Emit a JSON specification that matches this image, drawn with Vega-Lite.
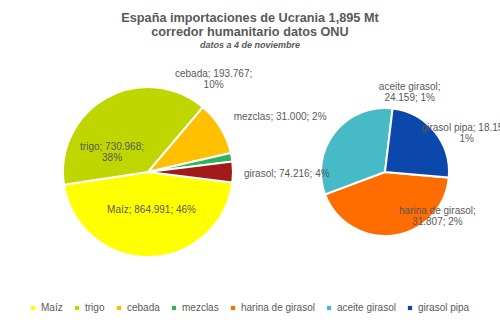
{
  "$schema": "https://vega.github.io/schema/vega-lite/v6.json",
  "width": 500,
  "height": 244,
  "autosize": {"type": "none"},
  "padding": {"left": 0, "right": 0, "top": 50, "bottom": 36},
  "background": "white",
  "config": {"view": {"stroke": null}, "font": "Liberation Sans"},
  "title": {
    "text": ["España importaciones de Ucrania 1,895 Mt", "corredor humanitario datos  ONU"],
    "subtitle": "datos a 4 de noviembre",
    "anchor": "middle",
    "font": "Liberation Sans",
    "fontSize": 12.7,
    "fontWeight": "bold",
    "color": "#595959",
    "lineHeight": 14,
    "subtitleFont": "Liberation Sans",
    "subtitleFontSize": 9,
    "subtitleFontStyle": "italic",
    "subtitleFontWeight": "bold",
    "subtitleColor": "#595959",
    "subtitlePadding": 2,
    "offset": -11
  },
  "data": {
    "values": [
      {"grupo": "principal", "cat": "Maíz", "valor": 864.991, "orden": 1, "label": "Maíz; 864.991; 46%"},
      {"grupo": "principal", "cat": "trigo", "valor": 730.968, "orden": 2, "label": "trigo; 730.968;\n38%"},
      {"grupo": "principal", "cat": "cebada", "valor": 193.767, "orden": 3, "label": "cebada; 193.767;\n10%"},
      {"grupo": "principal", "cat": "mezclas", "valor": 31.0, "orden": 4, "label": "mezclas; 31.000; 2%"},
      {"grupo": "principal", "cat": "girasol", "valor": 74.216, "orden": 5, "label": "girasol; 74.216; 4%"},
      {"grupo": "girasol", "cat": "harina de girasol", "valor": 31.807, "orden": 1, "label": "harina de girasol;\n31.807; 2%"},
      {"grupo": "girasol", "cat": "aceite girasol", "valor": 24.159, "orden": 2, "label": "aceite girasol;\n24.159; 1%"},
      {"grupo": "girasol", "cat": "girasol pipa", "valor": 18.15, "orden": 3, "label": "girasol pipa; 18.150;\n1%"}
    ]
  },
  "encoding": {
    "x": {"field": "grupo", "type": "nominal", "axis": null,
      "scale": {"type": "point", "padding": 0, "domain": ["principal", "girasol"], "range": [148, 385]}},
    "order": {"field": "orden", "type": "quantitative"}
  },
  "layer": [
    {
      "transform": [{"filter": "datum.grupo === 'principal'"}],
      "mark": {"type": "arc", "outerRadius": 85, "stroke": "white", "strokeWidth": 2},
      "encoding": {
        "theta": {"field": "valor", "type": "quantitative", "stack": true, "scale": {"range": [1.694, 7.977]}},
        "color": {"field": "cat", "type": "nominal",
          "scale": {
            "domain": ["Maíz", "trigo", "cebada", "mezclas", "harina de girasol", "aceite girasol", "girasol pipa", "girasol"],
            "range": ["#FFFF00", "#BFD600", "#FFC000", "#2EB35A", "#FF6C00", "#46BAC6", "#0C48AC", "#A31A1A"]
          },
          "legend": {
            "values": ["Maíz", "trigo", "cebada", "mezclas", "harina de girasol", "aceite girasol", "girasol pipa"],
            "orient": "none", "legendX": 28, "legendY": 253,
            "direction": "horizontal", "columns": 7, "title": null,
            "symbolType": "square", "symbolSize": 18, "symbolStrokeWidth": 0,
            "labelFontSize": 10, "labelColor": "#595959", "labelFont": "Liberation Sans",
            "labelOffset": 3, "columnPadding": 9
          }
        }
      }
    },
    {
      "transform": [{"filter": "datum.grupo === 'girasol'"}],
      "mark": {"type": "arc", "outerRadius": 64, "stroke": "white", "strokeWidth": 2},
      "encoding": {
        "theta": {"field": "valor", "type": "quantitative", "stack": true, "scale": {"range": [1.658, 7.941]}},
        "color": {"field": "cat", "type": "nominal"}
      }
    },
    {
      "transform": [{"filter": "datum.grupo === 'principal'"}],
      "mark": {"type": "text", "radius": 38, "dx": 3, "dy": 0, "fontSize": 10, "color": "#595959", "lineBreak": "\n", "lineHeight": 11},
      "encoding": {
        "theta": {"field": "valor", "type": "quantitative", "stack": true, "scale": {"range": [1.694, 7.977]}},
        "detail": {"field": "cat"},
        "text": {"condition": {"test": "datum.cat === 'Maíz'", "field": "label", "type": "nominal"}, "value": ""}
      }
    },
    {
      "transform": [{"filter": "datum.grupo === 'principal'"}],
      "mark": {"type": "text", "radius": 45, "dx": -14, "dy": 14, "fontSize": 10, "color": "#595959", "lineBreak": "\n", "lineHeight": 11},
      "encoding": {
        "theta": {"field": "valor", "type": "quantitative", "stack": true, "scale": {"range": [1.694, 7.977]}},
        "detail": {"field": "cat"},
        "text": {"condition": {"test": "datum.cat === 'trigo'", "field": "label", "type": "nominal"}, "value": ""}
      }
    },
    {
      "transform": [{"filter": "datum.grupo === 'principal'"}],
      "mark": {"type": "text", "radius": 85, "dx": -7, "dy": -54, "fontSize": 10, "color": "#595959", "lineBreak": "\n", "lineHeight": 11},
      "encoding": {
        "theta": {"field": "valor", "type": "quantitative", "stack": true, "scale": {"range": [1.694, 7.977]}},
        "detail": {"field": "cat"},
        "text": {"condition": {"test": "datum.cat === 'cebada'", "field": "label", "type": "nominal"}, "value": ""}
      }
    },
    {
      "transform": [{"filter": "datum.grupo === 'principal'"}],
      "mark": {"type": "text", "radius": 85, "dx": 2, "dy": -40, "align": "left", "fontSize": 10, "color": "#595959", "lineBreak": "\n", "lineHeight": 11},
      "encoding": {
        "theta": {"field": "valor", "type": "quantitative", "stack": true, "scale": {"range": [1.694, 7.977]}},
        "detail": {"field": "cat"},
        "text": {"condition": {"test": "datum.cat === 'mezclas'", "field": "label", "type": "nominal"}, "value": ""}
      }
    },
    {
      "transform": [{"filter": "datum.grupo === 'principal'"}],
      "mark": {"type": "text", "radius": 85, "dx": 11, "dy": 2, "align": "left", "fontSize": 10, "color": "#595959", "lineBreak": "\n", "lineHeight": 11},
      "encoding": {
        "theta": {"field": "valor", "type": "quantitative", "stack": true, "scale": {"range": [1.694, 7.977]}},
        "detail": {"field": "cat"},
        "text": {"condition": {"test": "datum.cat === 'girasol'", "field": "label", "type": "nominal"}, "value": ""}
      }
    },
    {
      "transform": [{"filter": "datum.grupo === 'girasol'"}],
      "mark": {"type": "text", "radius": 40, "dx": 47, "dy": -1, "fontSize": 10, "color": "#595959", "lineBreak": "\n", "lineHeight": 11},
      "encoding": {
        "theta": {"field": "valor", "type": "quantitative", "stack": true, "scale": {"range": [1.658, 7.941]}},
        "detail": {"field": "cat"},
        "text": {"condition": {"test": "datum.cat === 'harina de girasol'", "field": "label", "type": "nominal"}, "value": ""}
      }
    },
    {
      "transform": [{"filter": "datum.grupo === 'girasol'"}],
      "mark": {"type": "text", "radius": 64, "dx": 75, "dy": -45, "fontSize": 10, "color": "#595959", "lineBreak": "\n", "lineHeight": 11},
      "encoding": {
        "theta": {"field": "valor", "type": "quantitative", "stack": true, "scale": {"range": [1.658, 7.941]}},
        "detail": {"field": "cat"},
        "text": {"condition": {"test": "datum.cat === 'aceite girasol'", "field": "label", "type": "nominal"}, "value": ""}
      }
    },
    {
      "transform": [{"filter": "datum.grupo === 'girasol'"}],
      "mark": {"type": "text", "radius": 64, "dx": 32, "dy": -4, "fontSize": 10, "color": "#595959", "lineBreak": "\n", "lineHeight": 11},
      "encoding": {
        "theta": {"field": "valor", "type": "quantitative", "stack": true, "scale": {"range": [1.658, 7.941]}},
        "detail": {"field": "cat"},
        "text": {"condition": {"test": "datum.cat === 'girasol pipa'", "field": "label", "type": "nominal"}, "value": ""}
      }
    }
  ],
  "resolve": {"scale": {"theta": "independent"}}
}
